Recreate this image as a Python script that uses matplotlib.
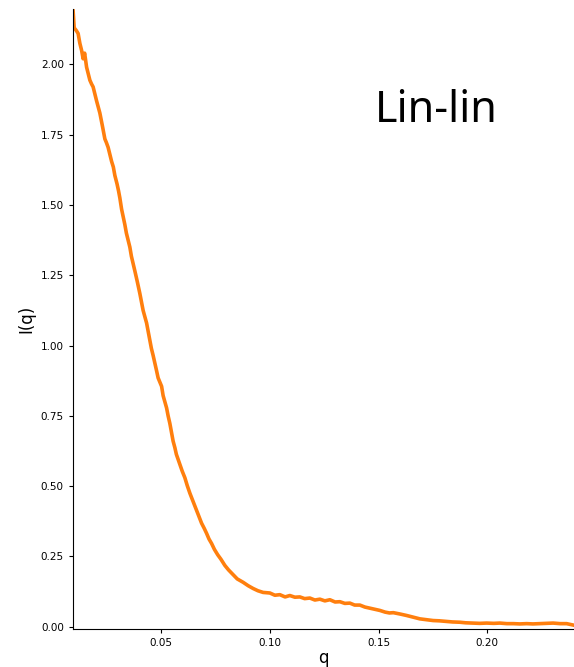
'''
Scattering curve, linear axes
'''

# Imports
import matplotlib
matplotlib.use('Agg')
import matplotlib.pyplot as plt

# Data
q = [0.0095, 0.0100, 0.0110, 0.0118, 0.0126, 0.0134, 0.0141, 0.0148, 0.0157, 0.0165,
     0.0172, 0.0180, 0.0187, 0.0195, 0.0203, 0.0210, 0.0218, 0.0225, 0.0230, 0.0236,
     0.0241, 0.0248, 0.0256, 0.0264, 0.0272, 0.0280, 0.0287, 0.0297, 0.0304, 0.0310,
     0.0318, 0.0325, 0.0333, 0.0340, 0.0348, 0.0356, 0.0363, 0.0371, 0.0380, 0.0390,
     0.0402, 0.0410, 0.0417, 0.0425, 0.0433, 0.0440, 0.0448, 0.0455, 0.0463, 0.0472,
     0.0479, 0.0486, 0.0495, 0.0502, 0.0509, 0.0517, 0.0525, 0.0532, 0.0540, 0.0548,
     0.0555, 0.0563, 0.0570, 0.0578, 0.0586, 0.0597, 0.0609, 0.0620, 0.0632, 0.0647,
     0.0663, 0.0675, 0.0686, 0.0698, 0.0709, 0.0720, 0.0732, 0.0745, 0.0760, 0.0775,
     0.0793, 0.0810, 0.0831, 0.0850, 0.0877, 0.0900, 0.0923, 0.0945, 0.0969, 0.1000,
     0.1023, 0.1046, 0.1070, 0.1092, 0.1115, 0.1138, 0.1160, 0.1184, 0.1207, 0.1230,
     0.1253, 0.1276, 0.1300, 0.1322, 0.1345, 0.1368, 0.1390, 0.1414, 0.1437, 0.1460,
     0.1483, 0.1506, 0.1530, 0.1550, 0.1568, 0.1600, 0.1629, 0.1660, 0.1690, 0.1720,
     0.1751, 0.1780, 0.1813, 0.1840, 0.1874, 0.1900, 0.1935, 0.1965, 0.1997, 0.2030,
     0.2058, 0.2090, 0.2120, 0.2150, 0.2181, 0.2210, 0.2242, 0.2270, 0.2303, 0.2335,
     0.2365, 0.2395]
I = [2.190, 2.130, 2.120, 2.110, 2.075, 2.050, 2.020, 2.040, 1.990, 1.965,
     1.944, 1.930, 1.920, 1.895, 1.870, 1.850, 1.827, 1.800, 1.780, 1.755,
     1.735, 1.722, 1.705, 1.680, 1.655, 1.635, 1.605, 1.575, 1.550, 1.525,
     1.485, 1.460, 1.430, 1.400, 1.375, 1.350, 1.318, 1.292, 1.262, 1.228,
     1.185, 1.152, 1.125, 1.102, 1.080, 1.052, 1.018, 0.990, 0.965, 0.935,
     0.910, 0.885, 0.868, 0.855, 0.822, 0.800, 0.778, 0.750, 0.723, 0.690,
     0.660, 0.637, 0.613, 0.595, 0.578, 0.553, 0.530, 0.502, 0.475, 0.445,
     0.414, 0.390, 0.368, 0.350, 0.332, 0.312, 0.296, 0.275, 0.256, 0.240,
     0.218, 0.202, 0.185, 0.170, 0.158, 0.146, 0.136, 0.128, 0.122, 0.120,
     0.112, 0.114, 0.106, 0.111, 0.105, 0.106, 0.100, 0.102, 0.095, 0.098,
     0.092, 0.096, 0.088, 0.089, 0.083, 0.084, 0.077, 0.077, 0.070, 0.066,
     0.062, 0.058, 0.052, 0.049, 0.050, 0.045, 0.040, 0.034, 0.028, 0.025,
     0.022, 0.021, 0.019, 0.017, 0.016, 0.014, 0.013, 0.012, 0.013, 0.012,
     0.013, 0.011, 0.011, 0.010, 0.011, 0.010, 0.011, 0.012, 0.013, 0.011,
     0.011, 0.006]
x_ticks = [0.05, 0.10, 0.15, 0.20]
y_ticks = [0.00, 0.25, 0.50, 0.75, 1.00, 1.25, 1.50, 1.75, 2.00]

# Plot
fig = plt.figure(figsize=(5.74, 6.67), dpi=100)
ax = fig.add_axes([0.127, 0.057, 0.873, 0.9295])
ax.plot(q, I, color='#ff7f0e', linewidth=2.6)

ax.set_xlim(0.0094, 0.2399)
ax.set_ylim(-0.008, 2.197)
ax.set_xticks(x_ticks)
ax.set_yticks(y_ticks)
ax.set_xticklabels([f'{t:.2f}' for t in x_ticks])
ax.set_yticklabels([f'{t:.2f}' for t in y_ticks])
ax.tick_params(labelsize=7.5, length=3)
ax.spines['top'].set_visible(False)
ax.spines['right'].set_visible(False)

ax.set_xlabel('q', fontsize=12, labelpad=1)
ax.set_ylabel('I(q)', fontsize=12)
ax.text(0.1483, 1.795, 'Lin-lin', fontsize=31, family=['Noto Sans', 'DejaVu Sans'],
        ha='left', va='baseline')

fig.savefig('out.png', dpi=100)
